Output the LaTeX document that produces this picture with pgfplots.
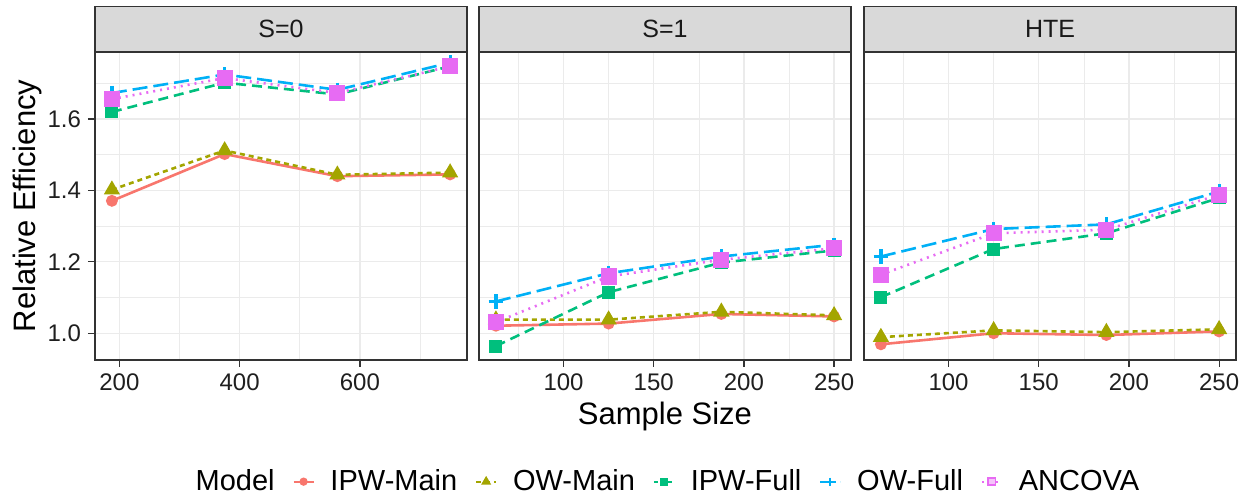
\documentclass[border=0pt]{standalone}
\usepackage{fontspec}
\setmainfont{Liberation Sans}
\usepackage{pgfplots}
\pgfplotsset{compat=1.18}
\definecolor{cR}{HTML}{F8766D}
\definecolor{cO}{HTML}{A3A500}
\definecolor{cG}{HTML}{00BF7D}
\definecolor{cB}{HTML}{00B0F6}
\definecolor{cP}{HTML}{E76BF3}
\definecolor{gridc}{HTML}{EBEBEB}
\definecolor{framec}{HTML}{333333}
\definecolor{stripf}{HTML}{D9D9D9}

\pgfplotsset{
  every axis title/.style={at={(axis description cs:0.5,1)}, anchor=south, fill=stripf, draw=framec, line width=0.7pt,
      minimum width=186pt, minimum height=22.5pt, inner sep=0pt, font=\fontsize{12.5}{14}\selectfont, text=black!90},
  facet/.style={
    scale only axis, width=186pt, height=154pt,
    ymin=0.925, ymax=1.788,
    ytick={1.0,1.2,1.4,1.6}, minor ytick={1.1,1.3,1.5,1.7},
    grid=both,
    major grid style={gridc, line width=0.6pt},
    minor grid style={gridc, line width=0.3pt},
    axis line style={framec, line width=0.7pt},
    tick style={framec, line width=0.6pt},
    major tick length=3.5pt, minor tick length=0pt,
    tick align=outside, tick pos=left,
    tick label style={font=\fontsize{12}{14}\selectfont, text=black!88},
    /pgf/number format/assume math mode=true,
    yticklabel style={/pgf/number format/fixed, /pgf/number format/fixed zerofill, /pgf/number format/precision=1},
    legend image code/.code={\draw[mark repeat=2,mark phase=2,#1] plot coordinates {(0pt,0pt)(5pt,0pt)(10pt,0pt)};},
  },
  small/.style={xmin=53.125, xmax=259.375, xtick={100,150,200,250}, minor xtick={75,125,175,225},
    yticklabels={}, ytick style={draw=none}},
  ipwmain/.style={color=cR, line width=1.3pt, solid, mark=*, mark size=2.3pt, mark options={solid}},
  owmain/.style={color=cO, line width=1.3pt, dash pattern=on 2.5pt off 2pt, mark=triangle*, mark size=3.4pt, mark options={solid}},
  ipwfull/.style={color=cG, line width=1.3pt, dash pattern=on 5pt off 3pt, mark=square*, mark size=2.6pt, mark options={solid}},
  owfull/.style={color=cB, line width=1.3pt, dash pattern=on 7.5pt off 3pt, mark=+, mark size=3.6pt, mark options={solid, line width=1.6pt}},
  ancova/.style={color=cP, line width=1.3pt, dash pattern=on 1pt off 2.5pt, mark=square*, mark size=3.4pt, mark options={solid}},
}

\begin{document}
\begin{tikzpicture}
\useasboundingbox (0,0) rectangle (626pt,249pt);

% ---------- S=0 ----------
\begin{axis}[facet, at={(47.5pt,69pt)}, anchor=south west, title={S=0},
  xmin=159.375, xmax=778.125, xtick={200,400,600}, minor xtick={300,500,700},
  ylabel={Relative Efficiency},
  ylabel style={at={(axis description cs:-0.16,0.5)}, anchor=base, rotate=0, font=\fontsize{15.5}{18}\selectfont}]
\addplot[ipwmain, forget plot] coordinates {(187.5,1.371) (375,1.502) (562.5,1.440) (750,1.445)};
\addplot[owmain, forget plot] coordinates {(187.5,1.402) (375,1.512) (562.5,1.444) (750,1.450)};
\addplot[ipwfull, forget plot] coordinates {(187.5,1.620) (375,1.702) (562.5,1.669) (750,1.748)};
\addplot[owfull, forget plot] coordinates {(187.5,1.673) (375,1.725) (562.5,1.682) (750,1.758)};
\addplot[ancova, forget plot] coordinates {(187.5,1.656) (375,1.715) (562.5,1.673) (750,1.748)};
\end{axis}

% ---------- S=1 ----------
\begin{axis}[facet, small, at={(239.5pt,69pt)}, anchor=south west, title={S=1},
  xlabel={Sample Size},
  xlabel style={at={(axis description cs:0.5,-0.211)}, anchor=base, font=\fontsize{15.5}{18}\selectfont},
  legend columns=6,
  legend style={at={(axis description cs:0.485,-0.395)}, anchor=center, draw=none, fill=none,
    font=\fontsize{14.5}{16}\selectfont, nodes={inner sep=0pt},
    /tikz/every odd column/.append style={column sep=8pt},
    /tikz/every even column/.append style={column sep=9pt}}]
\addplot[ipwmain, forget plot] coordinates {(62.5,1.021) (125,1.027) (187.5,1.054) (250,1.047)};
\addplot[owmain, forget plot] coordinates {(62.5,1.038) (125,1.038) (187.5,1.060) (250,1.050)};
\addplot[ipwfull, forget plot] coordinates {(62.5,0.964) (125,1.115) (187.5,1.198) (250,1.232)};
\addplot[owfull, forget plot] coordinates {(62.5,1.089) (125,1.168) (187.5,1.215) (250,1.248)};
\addplot[ancova, forget plot] coordinates {(62.5,1.031) (125,1.159) (187.5,1.206) (250,1.238)};
\addlegendimage{empty legend}\addlegendentry{Model}
\addlegendimage{ipwmain, line width=0.9pt, mark size=1.6pt}\addlegendentry{IPW-Main}
\addlegendimage{owmain, line width=0.9pt, mark size=2pt}\addlegendentry{OW-Main}
\addlegendimage{ipwfull, line width=0.9pt, dash pattern=on 2pt off 1.5pt, mark size=1.6pt}\addlegendentry{IPW-Full}
\addlegendimage{owfull, line width=0.9pt, dash pattern=on 3pt off 2pt, mark size=2pt, mark options={solid,line width=0.9pt}}\addlegendentry{OW-Full}
\addlegendimage{ancova, line width=0.9pt, mark size=1.8pt, mark=square*, mark options={solid, fill=cP!40}}\addlegendentry{ANCOVA}
\end{axis}

% ---------- HTE ----------
\begin{axis}[facet, small, at={(432pt,69pt)}, anchor=south west, title={HTE}]
\addplot[ipwmain, forget plot] coordinates {(62.5,0.969) (125,1.000) (187.5,0.995) (250,1.005)};
\addplot[owmain, forget plot] coordinates {(62.5,0.989) (125,1.008) (187.5,1.003) (250,1.011)};
\addplot[ipwfull, forget plot] coordinates {(62.5,1.101) (125,1.236) (187.5,1.280) (250,1.379)};
\addplot[owfull, forget plot] coordinates {(62.5,1.215) (125,1.292) (187.5,1.305) (250,1.397)};
\addplot[ancova, forget plot] coordinates {(62.5,1.164) (125,1.280) (187.5,1.290) (250,1.388)};
\end{axis}
\end{tikzpicture}
\end{document}
